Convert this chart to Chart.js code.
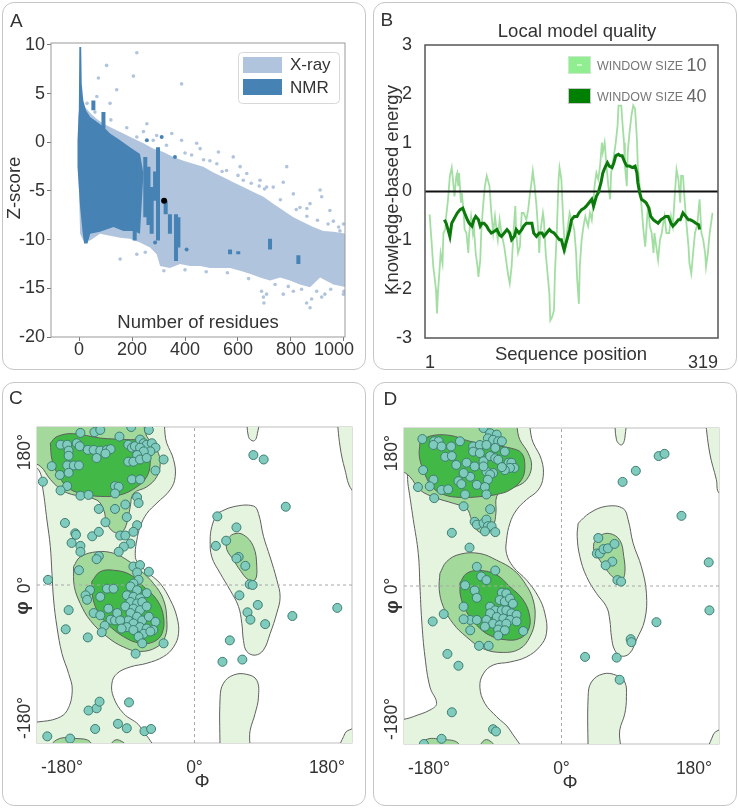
<!DOCTYPE html>
<html>
<head>
<meta charset="utf-8">
<title>Model quality overview</title>
<script src="https://cdn.jsdelivr.net/npm/chart.js@4.4.1/dist/chart.umd.min.js"></script>
<style>
  body { margin: 0; background: #fff; font-family: "Liberation Sans", Arial, sans-serif; }
  .panel { position: absolute; box-sizing: border-box; border: 1.5px solid #c6c6c6; border-radius: 12px; }
  canvas { position: absolute; }
  .tag { position: absolute; font-size: 19px; line-height: 19px; color: #333; }
</style>
</head>
<body>
<div class="panel" style="left:2px;top:2px;width:364px;height:368px"></div>
<div class="panel" style="left:373px;top:2px;width:364px;height:368px"></div>
<div class="panel" style="left:2px;top:382px;width:364px;height:424px"></div>
<div class="panel" style="left:373px;top:382px;width:364px;height:424px"></div>
<canvas id="chartA" width="364" height="368" style="left:2px;top:2px"></canvas>
<canvas id="chartB" width="364" height="368" style="left:373px;top:2px"></canvas>
<canvas id="chartC" width="364" height="424" style="left:2px;top:382px"></canvas>
<canvas id="chartD" width="364" height="424" style="left:373px;top:382px"></canvas>
<div class="tag" style="left:10px;top:10.5px">A</div>
<div class="tag" style="left:380.5px;top:9.5px">B</div>
<div class="tag" style="left:9px;top:387.5px">C</div>
<div class="tag" style="left:383.5px;top:389px">D</div>
<script>
// ===== Panel A: Z-score vs. number of residues =====
const xTicksA = [0, 200, 400, 600, 800, 1000];
const yTicksA = [-20, -15, -10, -5, 0, 5, 10];

// outline of the dense X-ray cloud (top edge, then bottom edge back)
const xrayCloud = [
  [4, 4.3], [23, 3.6], [42, 3.0], [67, 2.4], [92, 1.9], [130, 1.4], [167, 0.9], [205, 0.4],
  [243, -0.1], [281, -0.65], [318, -1.0], [356, -1.5], [394, -1.9], [431, -2.2], [469, -2.5],
  [507, -3.1], [545, -3.6], [582, -4.1], [620, -4.6], [658, -5.1], [696, -5.6], [733, -6.3],
  [771, -7.0], [809, -7.7], [847, -8.2], [884, -8.7], [922, -9.1], [960, -9.2], [1010, -9.4],
  [1010, -14.9], [960, -14.6], [910, -13.9], [872, -14.9], [834, -14.6], [796, -14.2], [759, -13.9],
  [721, -14.2], [683, -13.9], [645, -13.5], [608, -13.2], [570, -12.9], [532, -12.9], [494, -12.9],
  [457, -12.7], [419, -12.7], [381, -12.5], [343, -12.9], [306, -12.7], [293, -11.5], [268, -10.8],
  [230, -10.3], [192, -9.9], [155, -9.8], [117, -9.6], [79, -9.4], [42, -10.1], [16, -10.1],
  [4, -9.4], [-3, -2.5], [-3, 2.6], [4, 4.3]
];
const xrayDots = [
  [218, 9.2], [104, 7.9], [205, 6.8], [73, 6.6], [387, 6.0], [142, 5.4], [67, 4.7], [117, 4.0],
  [218, 0.55], [243, 1.1], [350, 0.9], [387, 0.2], [457, -0.65], [526, -1.0], [425, -1.3], [494, -1.9],
  [582, -1.5], [784, -2.5], [633, -3.2], [683, -3.9], [733, -4.6], [771, -4.1], [658, -5.6], [809, -5.3],
  [910, -4.9], [916, -5.6], [947, -7.0], [872, -6.3], [985, -9.1], [998, -8.4], [834, -6.7], [708, -4.6],
  [608, -2.5], [557, -2.9], [444, -0.1], [293, 0.7], [256, 1.9], [155, -12.0], [218, -11.5],
  [689, -15.3], [696, -15.9], [698, -16.5], [708, -15.6], [859, -16.5], [872, -17.0], [878, -16.1],
  [916, -15.9], [928, -15.6], [809, -15.3], [998, -15.6], [771, -15.6], [897, -15.3],
  [520, -2.2], [600, -3.4], [650, -4.2], [700, -4.8], [760, -5.9], [820, -6.9], [860, -7.6],
  [900, -8.0], [940, -8.4], [980, -8.7], [470, -1.8], [400, -1.1], [330, -0.3], [280, 0.2],
  [180, 1.5], [120, 2.3], [60, 3.1], [30, 4.0],
  [250, -11.3], [320, -13.2], [400, -13.1], [480, -13.3], [560, -13.4], [640, -14.0], [740, -14.6],
  [790, -14.8], [840, -15.1], [950, -15.1], [1000, -15.3], [540, -3.0], [620, -3.9], [680, -4.5],
  [860, -6.8], [960, -8.1]
];
const nmrCloud = [
  [-6, 0.2], [-1, 3.3], [1, 9.8], [8, 9.8], [10, 6.0], [16, 4.3], [26, 3.3], [42, 2.6], [67, 2.1],
  [92, 1.6], [117, 0.9], [155, 0.2], [192, -0.5], [230, -1.2], [243, -3.2], [230, -9.4], [205, -9.1],
  [167, -9.1], [130, -8.7], [79, -9.2], [42, -9.4], [32, -10.4], [19, -10.4], [14, -9.4], [4, -6.7],
  [-6, -2.5], [-6, 0.2]
];
// vertical NMR streaks: [residues, top z, bottom z]
const nmrStreaks = [
  [54, 4.3, 3.3], [92, 3.1, 1.4], [210, -1.5, -10.1], [250, -1.5, -7.7], [262, -2.5, -8.5],
  [274, -4.6, -9.4], [287, -3.0, -6.0], [298, -0.5, -10.1], [327, -6.0, -7.4], [343, -7.4, -9.4],
  [366, -7.4, -12.2], [375, -7.7, -10.8], [570, -11.0, -11.5], [601, -11.2, -11.5],
  [721, -9.9, -11.0], [828, -11.6, -12.5]
];
const nmrDots = [[312, 0.55], [362, -1.5], [287, -10.3], [406, -11.0], [256, 0.2]];
const modelPoint = [321, -6.0];

// ===== Panel B: local model quality =====
const seqRange = [1, 319];
const seqPos10 = [6,8,10,13,14,15,17,18,20,21,23,24,26,28,30,32,33,35,36,37,38,40,41,43,44,46,48,49,51,53,
  54,56,58,59,61,62,64,66,68,71,73,75,77,79,80,82,84,87,89,91,93,95,97,99,100,102,104,106,108,111,
  113,115,117,118,120,122,124,125,126,129,130,132,134,136,137,139,141,142,144,146,147,149,151,153,155,158,160,163,165,166,
  168,169,171,173,175,176,178,180,182,184,185,187,189,191,193,194,196,198,200,202,203,206,208,210,211,212,214,215,217,218,
  220,221,223,225,227,229,231,232,234,236,238,240,241,243,245,247,249,250,252,254,256,258,259,261,263,266,268,270,272,274,
  276,278,279,281,283,285,287,288,290,292,294,296,297,299,301,303,305,306,308,310,312,313];
const energy10 = [-0.47,-0.99,-1.54,-2.02,-2.50,-2.09,-1.54,-1.26,-1.47,-0.85,
  -0.78,-0.51,-0.16,0.32,0.49,0.11,-0.10,0.32,0.38,0.11,
  0.38,-0.23,-0.03,-0.44,-0.78,-0.85,-1.26,-0.85,-0.51,-0.85,
  -0.71,-1.26,-1.54,-1.75,-1.40,-0.85,-0.30,0.11,0.32,0.11,
  -0.44,-0.85,-0.51,-0.85,-0.99,-0.58,-0.85,-1.13,-1.40,-1.68,
  -1.88,-1.54,-0.85,-0.30,-0.85,-1.26,-1.13,-0.44,-0.44,-0.58,
  -0.37,-0.03,0.25,0.42,0.11,-0.30,-0.85,-1.26,-0.85,-0.44,
  -0.58,-1.26,-1.68,-2.09,-2.64,-2.57,-2.43,-1.68,-0.85,0.25,
  0.49,0.25,-0.58,-1.26,-0.85,-0.44,-0.58,-0.78,-1.26,-1.75,
  -2.30,-1.54,-0.99,-0.71,-0.51,-0.58,-0.71,-0.44,-0.58,-0.16,
  0.11,0.38,0.25,0.52,1.00,0.80,1.00,0.52,0.11,-0.16,
  0.38,0.73,1.00,1.35,1.76,1.76,1.76,1.48,1.00,0.52,
  0.11,0.80,1.21,1.55,1.76,1.69,1.07,0.52,0.11,-0.30,
  -0.78,-1.13,-0.85,-0.30,-0.71,-0.85,-1.26,-0.85,-1.13,-1.40,
  -0.99,-0.85,-0.71,-0.51,-0.85,-0.85,-0.51,-0.71,-0.10,0.45,
  0.25,-0.23,0.32,0.32,-0.23,-0.71,-1.13,-1.47,-1.68,-1.26,
  -0.85,-0.71,-0.58,-0.16,-0.85,-0.99,-1.26,-1.54,-1.26,-0.85,
  -0.58,-0.44];
const seqPos40 = [22,24,26,28,30,32,34,36,39,42,44,47,49,52,54,56,59,61,63,65,
  68,70,73,76,79,82,84,87,90,93,95,98,100,103,106,108,111,114,117,119,
  122,125,128,130,133,136,138,141,144,147,149,152,155,158,160,163,166,168,171,174,
  176,179,182,184,187,189,192,194,197,199,201,204,206,208,211,213,215,218,220,223,
  226,229,231,232,234,236,239,241,244,246,249,251,254,257,260,262,265,268,270,273,
  276,278,281,284,287,289,292,295,298,299];
const energy40 = [-0.58,-0.65,-0.78,-0.92,-0.65,-0.58,-0.51,-0.44,-0.37,-0.34,
  -0.44,-0.58,-0.65,-0.71,-0.58,-0.51,-0.58,-0.71,-0.65,-0.65,
  -0.71,-0.78,-0.85,-0.82,-0.78,-0.89,-0.92,-0.85,-0.78,-0.85,
  -0.99,-0.92,-0.78,-0.85,-0.78,-0.71,-0.65,-0.65,-0.65,-0.85,
  -0.92,-0.85,-0.85,-0.92,-0.85,-0.78,-0.82,-0.85,-0.92,-0.99,
  -0.99,-1.20,-0.99,-0.78,-0.58,-0.51,-0.51,-0.44,-0.37,-0.34,
  -0.30,-0.23,-0.16,-0.30,-0.10,-0.03,0.18,0.38,0.52,0.59,
  0.52,0.49,0.59,0.73,0.76,0.73,0.73,0.59,0.52,0.52,
  0.49,0.52,0.38,0.18,-0.03,-0.16,-0.20,-0.23,-0.34,-0.51,
  -0.58,-0.61,-0.65,-0.58,-0.54,-0.51,-0.51,-0.65,-0.71,-0.65,
  -0.58,-0.58,-0.44,-0.51,-0.58,-0.58,-0.61,-0.65,-0.68,-0.78];

// ===== Panels C, D: Ramachandran plots (degrees) =====
const angleTicks = [-180, 0, 180];
const angleLim = 214;

const lightC = [
  [[-250,250],[-51,232],[-37.6,192],[-28.5,170],[-26.2,147],[-33,129],[-51.1,111],[-64.7,97],[-73.8,79],[-78.3,61],
   [-80.5,43],[-78.3,32],[-64.7,18],[-46.6,2],[-33,-20],[-24,-43],[-21.7,-66],[-28.5,-84],[-42.1,-97],[-64.7,-106],
   [-87.3,-111],[-105.4,-120],[-112.2,-133],[-110,-152],[-96.4,-174],[-73.8,-192],[-57,-232],[-250,-250],[-232,-194],
   [-186.4,-180.5],[-172.9,-169.7],[-166.1,-142.5],[-171,-120],[-180.1,-92.8],[-186.9,-56.6],[-191.4,-20.4],
   [-193.7,15.8],[-195.9,52],[-200.5,88],[-205.9,129],[-211.8,156],[-232,168],[-250,250]],
  [[30.3,97],[52.9,106],[80.1,107],[86.9,97],[93.7,66],[102.7,38],[111.8,7],[116.3,-16],[111.8,-38],[102.7,-66],
   [93.7,-88],[82.4,-95],[71,-90],[66.5,-75],[64.3,-52],[59.7,-29],[48.4,-7],[34.8,16],[23.5,38],[21.3,61],[23.5,79],[30.3,97]],
  [[34.8,-232],[34.8,-152],[39.4,-133],[52.9,-122],[71,-121],[84.6,-129],[86.9,-152],[82.4,-174],[75.6,-197],[71,-232],[34.8,-232]],
  [[71,232],[73.3,201],[80.1,195],[84.6,201],[86.9,232],[71,232]],
  [[193.2,232],[197.7,188],[204.5,156],[213.6,129],[232,118],[250,250],[193.2,232]],
  [[250,-180],[213.6,-195],[204.5,-201],[197.7,-232],[250,-250],[250,-180]]
];
const mediumC = [
  [[-250,250],[-78,232],[-64.7,201],[-51.1,183],[-46.6,165],[-51.1,147],[-64.7,133],[-82.8,124],[-87.3,106],[-91.9,84],
   [-98.6,72],[-110,72],[-119,84],[-123.5,102],[-132.6,115],[-155.2,120],[-177.8,127],[-195.9,143],[-209.5,161],[-232,172],[-250,250]],
  [[-164.3,25],[-155.2,38],[-132.6,45],[-110,43],[-91.9,34],[-73.8,20],[-55.7,2],[-42.1,-20],[-37.6,-48],[-39.8,-70],
   [-51.1,-84],[-73.8,-90],[-96.4,-84],[-119,-70],[-141.6,-48],[-155.2,-25],[-163.3,-2],[-164.3,25]],
  [[43.9,61],[52.9,69],[66.5,68],[80.1,52],[84.6,25],[82.4,7],[73.3,7],[62,20],[52.9,34],[43.9,48],[43.9,61]],
  [[-205,-232],[-186.9,-209.5],[-159.7,-208],[-141.6,-212.7],[-137,-232],[-205,-232]],
  [[-123.5,-232],[-105.4,-209.5],[-82.8,-232],[-123.5,-232]]
];
const darkC = [
  [[-195.9,192],[-186.9,201],[-164.3,205],[-128.1,199],[-91.9,197],[-73.8,195],[-62.4,183],[-60.2,165],[-64.7,147],
   [-78.3,133],[-100.9,122],[-128.1,120],[-155.2,124],[-173.3,133],[-186.9,152],[-193.7,170],[-195.9,192]],
  [[-139.4,5],[-128.1,18],[-110,20],[-87.3,14],[-69.2,-2],[-51.1,-20],[-42.1,-43],[-44.3,-66],[-55.7,-77],[-73.8,-79],
   [-96.4,-70],[-119,-52],[-132.6,-34],[-139.4,-11],[-139.4,5]]
];
const residuesC = [
  [-155,206],[-136,207],[-128,210],[-86,214],[-62,210],[-102,201],[-182,190],[-173,190],[-160,192],[-171,182],
  [-156,188],[-171,175],[-145,183],[-137,183],[-128,182],[-119,183],[-114,184],[-121,178],[-133,172],[-90,190],
  [-85,186],[-81,188],[-74,197],[-69,192],[-65,190],[-58,192],[-53,186],[-60,181],[-74,186],[-69,181],
  [-78,176],[-90,167],[-83,167],[-74,170],[-65,172],[-42,170],[-194,161],[-173,162],[-164,162],[-157,162],
  [-53,155],[-183,149],[-171,152],[-85,143],[-74,143],[-173,134],[-206,140],[-108,134],[-103,133],[-155,121],
  [-144,122],[-182,128],[-108,124],[-78,119],[-94,109],[-108,103],[-130,103],[-76,111],[-92,92],[-176,84],
  [-121,85],[-78,81],[-162,70],[-161,68],[-139,66],[-130,72],[-101,67],[-94,67],[-83,72],[-167,57],
  [-155,53],[-87,56],[-96,52],[-103,45],[-155,45],[-130,39],[-133,35],[-83,25],[-74,27],[-62,18],
  [-78,17],[-157,20],[-199,7],[-76,7],[-83,2],[-142,-7],[-148,-14],[-128,-16],[-119,-5],[-110,-5],
  [-146,-20],[-87,-2],[-78,-7],[-65,-11],[-92,-14],[-83,-16],[-74,-18],[-87,-23],[-78,-25],[-71,-23],
  [-94,-29],[-83,-32],[-74,-34],[-65,-29],[-117,-32],[-171,-34],[-87,-38],[-78,-43],[-71,-48],[-62,-43],
  [-53,-50],[-90,-48],[-83,-52],[-74,-57],[-65,-59],[-56,-61],[-92,-57],[-83,-61],[-69,-66],[-60,-63],
  [-76,-70],[-71,-79],[-42,-79],[-137,-38],[-128,-41],[-114,-47],[-108,-48],[-175,-60],[-145,-71],[-80,-93],
  [-122,-55],[-126,-64],[-105,-38],[-101,-48],[-99,-59],
  [-144,-170],[-133,-167],[-129,-158],[-89,-159],[-104,-188],[-92,-194],[-135,-195],[-68,-198],[-59,-195],
  [-200,-205],[-169,-208],
  [80,176],[94,170],[124,106],[31,93],[57,78],[43,60],[29,53],[60,38],[57,36],[69,26],
  [75,1],[79,0],[61,-14],[86,-27],[72,-37],[76,-47],[133,-42],[194,-31],[96,-53],[48,-75],[38,-104],[65,-101]
];

const lightD = [
  [[-250,250],[-54,232],[-38.5,194],[-27.2,171],[-24.9,148],[-31.7,130],[-47.5,117],[-61.1,103],[-70.1,85],[-74.7,62],
   [-74.7,44],[-65.6,26],[-47.5,8],[-31.7,-14],[-22.6,-37],[-20.4,-64],[-29.4,-82],[-47.5,-96],[-70.1,-103],[-92.8,-107],
   [-106.3,-119],[-110.9,-137],[-104.1,-159],[-88.2,-177],[-70.1,-195],[-55,-232],[-250,-250],[-232,-190],[-201.4,-177],
   [-178.7,-168],[-169.7,-159],[-178.7,-137],[-185.5,-96],[-190,-46],[-192.3,-1],[-194.6,44],[-201.4,90],[-208.2,135],
   [-213.6,167],[-232,172],[-250,250]],
  [[22.6,85],[38.5,99],[61.1,108],[83.7,105],[90.5,90],[97.3,58],[108.6,26],[115.4,-10],[113.1,-46],[101.8,-73],
   [92.8,-91],[81.5,-95],[72.4,-87],[67.9,-69],[65.6,-46],[61.1,-28],[47.5,-10],[33.9,13],[24.9,40],[21.3,67],[22.6,85]],
  [[36.2,-232],[36.2,-150],[40.7,-130],[56.6,-119],[74.7,-121],[86,-130],[88.2,-150],[86,-173],[79.2,-195],[76.9,-232],[36.2,-232]],
  [[72.4,232],[74.7,198],[81.5,191],[86,200],[86,232],[72.4,232]],
  [[194.6,232],[201.4,180],[210.4,144],[214,126],[232,118],[250,250],[194.6,232]],
  [[250,-180],[214,-195],[205.9,-202],[200.5,-232],[250,-250],[250,-180]]
];
const mediumD = [
  [[-250,250],[-70,232],[-56.6,198],[-45.3,180],[-40.7,162],[-47.5,144],[-61.1,135],[-79.2,130],[-88.2,121],[-89.1,99],
   [-92.8,81],[-101.8,71],[-115.4,76],[-122.2,90],[-129,105],[-147.1,112],[-169.7,119],[-192.3,130],[-205.9,148],[-232,170],[-250,250]],
  [[-165.2,17],[-156.1,33],[-138,43],[-110.9,44],[-88.2,35],[-65.6,22],[-49.8,4],[-38.5,-19],[-36.2,-46],[-43,-69],
   [-56.6,-85],[-79.2,-90],[-106.3,-85],[-129,-69],[-147.1,-51],[-160.6,-28],[-166.1,-5],[-165.2,17]],
  [[43.9,58],[52,68],[65.6,71],[79.2,62],[84.6,40],[86,17],[81.5,8],[72.4,10],[61.1,22],[52,35],[43.9,49],[43.9,58]],
  [[-199,-232],[-185.5,-209],[-160.6,-208],[-140.3,-213],[-135.8,-232],[-199,-232]],
  [[-120,-232],[-101.8,-208],[-83.7,-232],[-120,-232]]
];
const darkD = [
  [[-192.3,194],[-178.7,203],[-151.6,204],[-124.4,196],[-97.3,191],[-70.1,187],[-54.3,180],[-49.8,162],[-54.3,144],
   [-70.1,130],[-88.2,124],[-110.9,121],[-138,120],[-160.6,124],[-176.5,135],[-187.8,157],[-193.2,176],[-192.3,194]],
  [[-138,4],[-129,17],[-110.9,21],[-88.2,15],[-70.1,-1],[-52,-19],[-43,-42],[-45.3,-60],[-56.6,-71],[-74.7,-73],
   [-97.3,-67],[-115.4,-53],[-129,-35],[-137.1,-14],[-138,4]]
];
const residuesD = [
  [-106,214],[-97,207],[-88,205],[-100,200],[-93,198],[-86,196],[-189,199],[-173,196],[-167,196],[-174,191],
  [-163,189],[-150,189],[-138,196],[-120,189],[-111,191],[-102,191],[-90,187],[-81,196],[-77,182],[-158,175],
  [-149,176],[-129,167],[-120,182],[-111,180],[-106,169],[-97,176],[-90,173],[-86,171],[-72,167],[-68,167],
  [-64,160],[-70,160],[-77,157],[-81,161],[-93,153],[-102,155],[-106,162],[-118,162],[-143,164],[-188,157],
  [-174,144],[-179,135],[-195,134],[-163,130],[-154,131],[-140,142],[-124,148],[-133,153],[-97,151],[-100,144],
  [-115,137],[-104,134],[-102,124],[-131,124],[-136,138],[-173,119],[-133,108],[-97,104],[-118,87],[-115,83],
  [-106,85],[-102,90],[-100,81],[-95,81],[-104,74],[-90,73],[-149,72],[-125,52],[-115,26],[-90,21],
  [-109,13],[-102,8],[-131,1],[-118,-6],[-115,-16],[-81,-9],[-75,-10],[-84,-19],[-77,-21],[-70,-17],
  [-66,-24],[-97,-28],[-90,-33],[-81,-33],[-75,-33],[-68,-37],[-61,-39],[-97,-37],[-88,-42],[-79,-44],
  [-70,-46],[-102,-46],[-93,-51],[-84,-53],[-75,-51],[-61,-48],[-52,-61],[-104,-55],[-86,-59],[-77,-60],
  [-86,-67],[-124,-46],[-115,-46],[-133,-28],[-133,-45],[-124,-60],[-112,-81],[-99,-81],[-160,-38],[-175,-48],
  [-155,-92],[-140,-108],[-149,-171],[-93,-194],[-89,-197],[-163,-207],[-187,-214],
  [132,176],[140,179],[101,156],[83,141],[163,95],[50,65],[48,44],[52,44],[57,50],[63,51],
  [72,57],[69,33],[60,28],[76,8],[81,6],[200,32],[201,-33],[129,-49],[94,-72],[95,-76],[32,-96],[75,-97],[79,-127]
];

// ===== shared helpers =====
const XRAY = '#b0c4de';
const NMR = '#4682b4';
const FONT = '"Liberation Sans", Arial, sans-serif';
const toXY = pts => pts.map(([x, y]) => ({x, y}));
const fixTicks = values => scale => { scale.ticks = values.map(v => ({value: v})); };

Chart.defaults.font.family = FONT;
Chart.defaults.color = '#333';
Chart.defaults.animation = false;
Chart.defaults.events = [];
Chart.defaults.plugins.legend.display = false;
Chart.defaults.plugins.tooltip.enabled = false;

// fills the closed outline of a dataset (areaColor) using the line path Chart.js computed
Chart.register({
  id: 'polyFill',
  beforeDatasetDraw(chart, args) {
    const ds = chart.data.datasets[args.index];
    const line = args.meta.dataset;
    if (!ds.areaColor || !line) return;
    const {ctx, chartArea: a} = chart;
    line.updateControlPoints(a, 'x');
    ctx.save();
    ctx.beginPath();
    ctx.rect(a.left, a.top, a.width, a.height);
    ctx.clip();
    ctx.beginPath();
    line.path(ctx);
    ctx.closePath();
    ctx.fillStyle = ds.areaColor;
    ctx.fill();
    ctx.restore();
  }
});

function text(ctx, str, x, y, font, opts = {}) {
  ctx.save();
  ctx.translate(x, y);
  if (opts.rotate) ctx.rotate(opts.rotate);
  ctx.font = font;
  ctx.fillStyle = opts.color || '#333';
  ctx.textAlign = opts.align || 'center';
  ctx.textBaseline = 'middle';
  ctx.fillText(str, 0, 0);
  ctx.restore();
}

function frame(ctx, a, color, width) {
  ctx.save();
  ctx.strokeStyle = color;
  ctx.lineWidth = width;
  ctx.strokeRect(a.left, a.top, a.width, a.height);
  ctx.restore();
}

// ===== Chart A =====
new Chart(document.getElementById('chartA'), {
  type: 'scatter',
  data: {
    datasets: [
      { label: 'X-ray', data: toXY(xrayCloud), showLine: true, borderWidth: 0, pointRadius: 0, areaColor: XRAY, order: 6 },
      { data: toXY(xrayDots), pointRadius: 1.8, backgroundColor: XRAY, borderWidth: 0, order: 5 },
      { label: 'NMR', data: toXY(nmrCloud), showLine: true, borderWidth: 0, pointRadius: 0, areaColor: NMR, order: 4 },
      { data: nmrStreaks.flatMap(([x, top, bottom]) => [{x, y: top}, {x, y: bottom}, {x, y: null}]),
        showLine: true, borderColor: NMR, borderWidth: 4, borderCapStyle: 'butt', pointRadius: 0, order: 3 },
      { data: toXY(nmrDots), pointRadius: 2, backgroundColor: NMR, borderWidth: 0, order: 2 },
      { data: [{x: modelPoint[0], y: modelPoint[1]}], pointRadius: 3, backgroundColor: '#000', borderWidth: 0, order: 1 }
    ]
  },
  options: {
    responsive: false,
    devicePixelRatio: 1,
    layout: { padding: { top: 41, right: 21, left: 0, bottom: 0 } },
    scales: {
      x: {
        min: -106, max: 1004,
        afterBuildTicks: fixTicks(xTicksA),
        // the last label sits pulled in from the frame edge, as in the source figure
        afterFit: s => { s.height = 33; s.paddingLeft = 0; s.paddingRight = 0; },
        grid: { drawOnChartArea: false, tickLength: 4, color: '#777' },
        border: { display: false },
        ticks: {
          font: { size: 18, lineHeight: 1 }, padding: 0, maxRotation: 0, autoSkip: false,
          callback: v => v === xTicksA[xTicksA.length - 1] ? v + '\u00a0\u00a0\u00a0\u00a0' : String(v)
        }
      },
      y: {
        min: -20, max: 10.2,
        afterBuildTicks: fixTicks(yTicksA),
        afterFit: s => { s.width = 49; },
        grid: { drawOnChartArea: false, tickLength: 4, color: '#777' },
        border: { display: false },
        ticks: { font: { size: 18, lineHeight: 1 }, padding: 2, autoSkip: false, callback: v => String(v) }
      }
    }
  },
  plugins: [{
    id: 'decoA',
    afterDatasetsDraw(chart) {
      const {ctx, chartArea: a} = chart;
      frame(ctx, a, '#999', 1);
      text(ctx, 'Z-score', 13, 186, `18.5px ${FONT}`, { rotate: -Math.PI / 2 });
      text(ctx, 'Number of residues', (a.left + a.right) / 2, a.bottom - 14, `18.5px ${FONT}`);
      // legend
      ctx.save();
      ctx.fillStyle = '#fff';
      ctx.strokeStyle = '#d8d8d8';
      ctx.lineWidth = 1;
      ctx.beginPath();
      ctx.roundRect(236.5, 50.5, 101, 51, 4);
      ctx.fill();
      ctx.stroke();
      const items = [chart.data.datasets[0], chart.data.datasets[2]];
      items.forEach((ds, i) => {
        ctx.fillStyle = ds.areaColor;
        ctx.fillRect(241, 55 + i * 22, 39, 16);
        text(ctx, ds.label, 288, 63 + i * 23, `17px ${FONT}`, { align: 'left' });
      });
      ctx.restore();
    }
  }]
});

// ===== Chart B =====
const LIGHT = 'rgba(100, 200, 100, 0.6)';
const DARK = '#0b7a0b';
new Chart(document.getElementById('chartB'), {
  type: 'scatter',
  data: {
    datasets: [
      { label: 'WINDOW SIZE 10', data: seqPos10.map((x, i) => ({x, y: energy10[i]})), showLine: true,
        borderColor: LIGHT, borderWidth: 1.8, pointRadius: 0, legendColor: '#90ee90', order: 3 },
      { data: [{x: seqRange[0], y: 0}, {x: seqRange[1], y: 0}], showLine: true, borderColor: '#111',
        borderWidth: 2, pointRadius: 0, order: 2 },
      { label: 'WINDOW SIZE 40', data: seqPos40.map((x, i) => ({x, y: energy40[i]})), showLine: true,
        borderColor: DARK, borderWidth: 3, pointRadius: 0, legendColor: '#008000', order: 1 }
    ]
  },
  options: {
    responsive: false,
    devicePixelRatio: 1,
    layout: { padding: { top: 43, right: 19, left: 0, bottom: 0 } },
    scales: {
      x: {
        min: seqRange[0], max: seqRange[1],
        afterBuildTicks: fixTicks(seqRange),
        afterFit: s => { s.height = 32; },
        grid: { display: false },
        border: { display: false },
        ticks: { font: { size: 18, lineHeight: 1 }, padding: 8, align: 'inner', maxRotation: 0, callback: v => String(v) }
      },
      y: {
        min: -3, max: 3,
        ticks: { stepSize: 1, font: { size: 18, lineHeight: 1 }, padding: 5, callback: v => String(v) },
        afterFit: s => { s.width = 52; },
        grid: { display: false },
        border: { display: false }
      }
    }
  },
  plugins: [{
    id: 'decoB',
    afterDatasetsDraw(chart) {
      const {ctx, chartArea: a} = chart;
      frame(ctx, a, '#555', 1.5);
      text(ctx, 'Local model quality', 204, 30, `18.5px ${FONT}`);
      text(ctx, 'Knowledge-based energy', 20, 188, `18.5px ${FONT}`, { rotate: -Math.PI / 2 });
      text(ctx, 'Sequence position', 198, 353, `18.5px ${FONT}`);
      const items = [chart.data.datasets[0], chart.data.datasets[2]];
      items.forEach((ds, i) => {
        const y = i === 0 ? 55 : 87;
        ctx.save();
        ctx.fillStyle = ds.legendColor;
        ctx.strokeStyle = i === 0 ? '#cde9cd' : '#c9c9c9';
        ctx.lineWidth = 1;
        ctx.fillRect(196, y, 21, i === 0 ? 16 : 14);
        ctx.strokeRect(195.5, y - 0.5, 22, i === 0 ? 17 : 15);
        if (i === 0) { ctx.fillStyle = '#fff'; ctx.fillRect(204, y + 7.5, 5, 1); }
        ctx.restore();
        const num = ds.label.match(/\d+$/)[0];
        const prefix = ds.label.slice(0, -num.length);
        ctx.save();
        ctx.font = `12.5px ${FONT}`;
        const w = ctx.measureText(prefix).width;
        ctx.restore();
        const cy = i === 0 ? 64 : 95;
        text(ctx, prefix, 224, cy + 1, `12.5px ${FONT}`, { align: 'left', color: '#777' });
        text(ctx, num, 224 + w, cy, `18px ${FONT}`, { align: 'left', color: '#666' });
      });
    }
  }]
});

// ===== Charts C and D =====
function ramachandran(id, light, medium, dark, residues, pad, marks) {
  const outline = (pts, color, order) => ({
    data: toXY(pts), showLine: true, tension: 0.4, capBezierPoints: false,
    borderColor: '#5f5f5f', borderWidth: 1, pointRadius: 0, areaColor: color, order
  });
  const guide = pts => ({
    data: toXY(pts), showLine: true, borderColor: '#a8a8a8', borderWidth: 1,
    borderDash: [3, 3], pointRadius: 0, order: 2
  });
  new Chart(document.getElementById(id), {
    type: 'scatter',
    data: {
      datasets: [
        ...light.map(p => outline(p, '#e4f4df', 5)),
        ...medium.map(p => outline(p, '#a3da9c', 4)),
        ...dark.map(p => outline(p, '#42b846', 3)),
        guide([[0, -angleLim], [0, angleLim]]),
        guide([[-angleLim, 0], [angleLim, 0]]),
        { data: toXY(residues), pointRadius: 4.5, backgroundColor: '#7fcbbd', borderColor: '#3e7d70',
          borderWidth: 1, order: 1 }
      ]
    },
    options: {
      responsive: false,
      devicePixelRatio: 1,
      layout: { padding: { top: pad.top, right: pad.right, left: 0, bottom: 0 } },
      scales: {
        x: {
          min: -angleLim, max: angleLim,
          afterBuildTicks: fixTicks(angleTicks),
          afterFit: s => { s.height = pad.xh; },
          grid: { display: false },
          border: { display: false },
          ticks: { font: { size: 17.5, lineHeight: 1 }, padding: 8, maxRotation: 0, callback: v => v + '°' }
        },
        y: {
          min: -angleLim, max: angleLim,
          afterBuildTicks: fixTicks(angleTicks),
          afterFit: s => { s.width = pad.yw; },
          grid: { display: false },
          border: { display: false },
          ticks: { display: false }
        }
      }
    },
    plugins: [{
      id: 'deco' + id,
      beforeDatasetsDraw(chart) {
        frame(chart.ctx, chart.chartArea, '#bdbdbd', 1);
      },
      afterDatasetsDraw(chart) {
        const {ctx, chartArea: a, scales} = chart;
        scales.y.ticks.forEach(t => {
          text(ctx, t.value + '°', a.left - 12, scales.y.getPixelForValue(t.value), `17.5px ${FONT}`,
               { rotate: -Math.PI / 2 });
        });
        text(ctx, 'φ', marks.yTitle[0], marks.yTitle[1], `bold 19px ${FONT}`, { rotate: -Math.PI / 2 });
        text(ctx, 'Φ', marks.xTitle[0], marks.xTitle[1], `19px ${FONT}`);
      }
    }]
  });
}

ramachandran('chartC', lightC, mediumC, darkC, residuesC,
  { top: 45, right: 14, xh: 63, yw: 35 }, { yTitle: [21, 226], xTitle: [200, 400] });
ramachandran('chartD', lightD, mediumD, darkD, residuesD,
  { top: 46, right: 18, xh: 62, yw: 31 }, { yTitle: [20, 225], xTitle: [197, 401] });
</script>
</body>
</html>
